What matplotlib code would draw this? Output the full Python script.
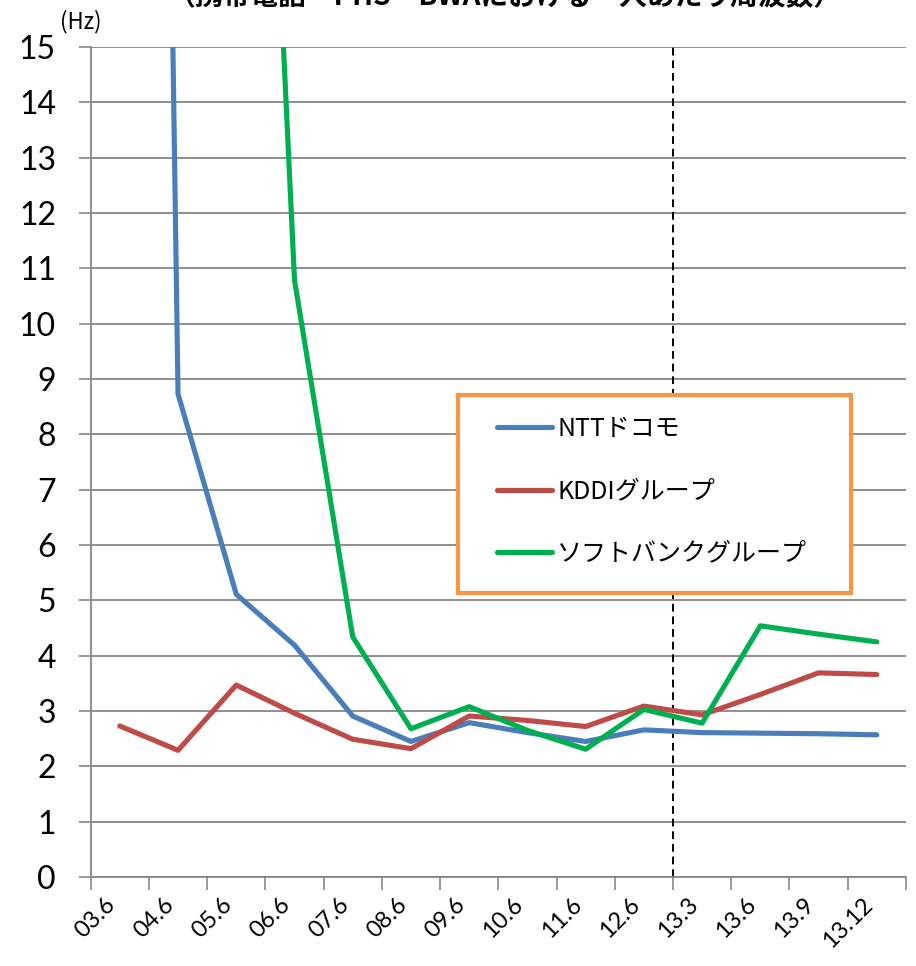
import numpy as np
import matplotlib
matplotlib.use("Agg")
import matplotlib.pyplot as plt
from matplotlib.patches import Rectangle

plt.rcParams['font.family'] = ['Lato', 'Noto Sans CJK JP', 'DejaVu Sans']

# survey points (year.month)
periods = ['03.6', '04.6', '05.6', '06.6', '07.6', '08.6', '09.6', '10.6',
           '11.6', '12.6', '13.3', '13.6', '13.9', '13.12']

# spectrum per subscriber (Hz); early values run far above the axis
ntt = [80.0, 8.73, 5.11, 4.19, 2.91, 2.45, 2.79, 2.61, 2.45, 2.66, 2.61, 2.60, 2.59, 2.57]
kddi = [2.73, 2.29, 3.47, 2.96, 2.49, 2.32, 2.91, 2.83, 2.72, 3.09, 2.93, 3.30, 3.69, 3.66]
softbank = [np.nan, np.nan, 33.0, 10.79, 4.34, 2.68, 3.08, 2.65, 2.31, 3.03, 2.78, 4.54, 4.39, 4.25]

names = ['NTTドコモ', 'KDDIグループ', 'ソフトバンクグループ']
colors = ['#4A7EBB', '#BE4B48', '#00B050']

title = '（携帯電話・PHS・BWAにおける一人あたり周波数）'
unit = '(Hz)'

fig = plt.figure(figsize=(9.16, 9.66), dpi=100)
ax = fig.add_axes([0.099, 0.0921, 0.890, 0.8592])

x = np.arange(len(periods))
lines = []
for vals, name, c in zip([ntt, kddi, softbank], names, colors):
    ln, = ax.plot(x, vals, color=c, lw=3.7, label=name,
                  solid_capstyle='round', solid_joinstyle='round', zorder=3)
    lines.append(ln)

# boundary between the annual and quarterly figures
ax.axvline(9.5, color='black', lw=1.4, ls=(0, (4, 2.5)), zorder=2)

ax.set_xlim(-0.5, len(periods) - 0.5)
ax.set_ylim(0, 15)
ax.set_yticks(range(0, 16))
ax.tick_params(axis='y', labelsize=23, length=9, width=1.2, color='#878787',
               direction='out', pad=16)
ax.set_xticks(x)
ax.set_xticklabels(periods, rotation=45, ha='right', va='top',
                   rotation_mode='default')
ax.set_xticks(np.arange(-0.5, len(periods)), minor=True)
ax.tick_params(axis='x', which='major', length=0, labelsize=17, pad=12)
ax.tick_params(axis='x', which='minor', length=9, width=1.2, color='#878787',
               direction='out')
ax.yaxis.grid(True, color='#878787', lw=1.3)
ax.set_axisbelow(True)
for s in ['top', 'right']:
    ax.spines[s].set_visible(False)
for s in ['left', 'bottom']:
    ax.spines[s].set_color('#878787')
    ax.spines[s].set_linewidth(1.3)

# legend box with its own frame so the padding can differ per side
box = Rectangle((458 / 916, 1 - 593 / 966), 393 / 916, 198 / 966,
                transform=fig.transFigure, facecolor='white',
                edgecolor='#F79646', lw=3, zorder=4)
fig.patches.append(box)
leg = fig.legend(handles=lines, loc='upper left',
                 bbox_to_anchor=(497 / 916, 1 - 416 / 966),
                 bbox_transform=fig.transFigure, frameon=False,
                 prop={'family': 'Noto Sans CJK JP', 'size': 18},
                 handlelength=2.2, handletextpad=0.2, labelspacing=1.45,
                 borderpad=0, borderaxespad=0)
leg.set_zorder(5)

fig.text(60 / 916, 1 - 22 / 966, unit, fontsize=16, va='center', ha='left',
         family=['Noto Sans CJK JP'])
fig.text(505 / 916, 1 + 3 / 966, title, fontsize=20, fontweight='bold',
         va='center', ha='center', family=['Noto Sans CJK JP'])

fig.savefig('out.png', dpi=100)
